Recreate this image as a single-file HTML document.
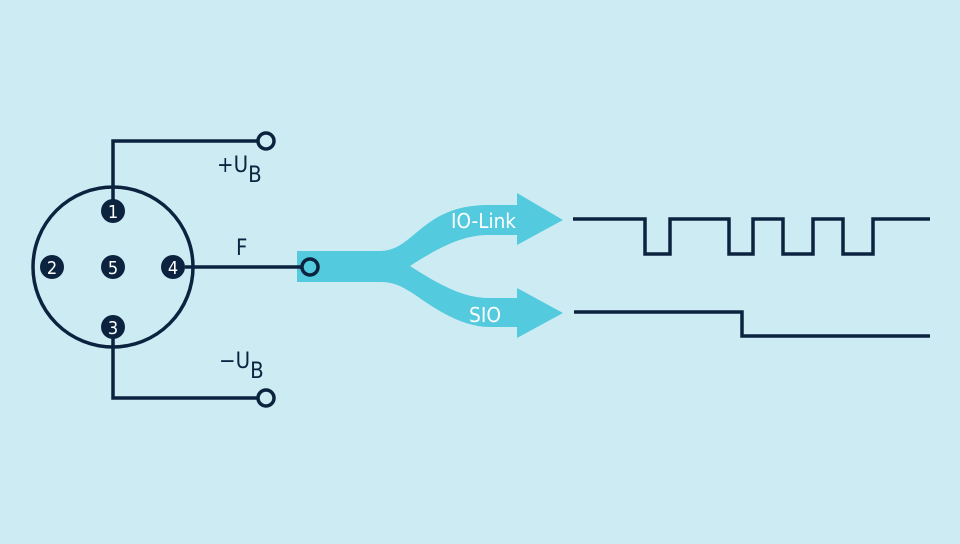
<!DOCTYPE html>
<html><head><meta charset="utf-8"><style>
html,body{margin:0;padding:0;background:#cdebf3;}
svg{display:block}
</style></head><body>
<svg width="960" height="544" viewBox="0 0 960 544" xmlns="http://www.w3.org/2000/svg">
<rect width="960" height="544" fill="#cdebf3"/>
<path d="M297,251 L380,251 C400,251 410,236 430,222 C450,208 470,205 490,205 L517,205 L517,193 L563,220 L517,245 L517,235 L490,235 C470,235 450,240 410,266 C450,292 470,298 490,298 L517,298 L517,288 L563,313 L517,338 L517,327 L490,327 C470,327 450,318 430,305 C410,292 400,282 380,282 L297,282 Z" fill="#53cadd"/>
<g font-family="'DejaVu Sans Condensed','Liberation Sans',sans-serif" fill="#fff" font-size="20">
<text x="451" y="228" textLength="65" lengthAdjust="spacingAndGlyphs">IO-Link</text>
<text x="469" y="322" textLength="32" lengthAdjust="spacingAndGlyphs">SIO</text>
</g>
<g fill="none" stroke="#0c2340" stroke-width="3.5">
<circle cx="113" cy="267" r="80"/>
<polyline points="113,200 113,141 258,141"/>
<polyline points="113,337 113,398 258,398"/>
<line x1="185" y1="267" x2="302" y2="267"/>
<circle cx="266" cy="141" r="8"/>
<circle cx="266" cy="398" r="8"/>
<circle cx="310" cy="267" r="8"/>
<polyline points="573,219 645,219 645,254 670,254 670,219 729,219 729,254 753,254 753,219 783,219 783,254 813,254 813,219 843,219 843,254 873,254 873,219 930,219"/>
<polyline points="574,312 742,312 742,336 930,336"/>
</g>
<g fill="#0c2340">
<circle cx="113" cy="211" r="12"/>
<circle cx="52" cy="267" r="12"/>
<circle cx="113" cy="267" r="12"/>
<circle cx="173" cy="267" r="12"/>
<circle cx="113" cy="327" r="12"/>
</g>
<g font-family="'DejaVu Sans Condensed','Liberation Sans',sans-serif" fill="#fff" font-size="18" text-anchor="middle">
<text x="113" y="218">1</text>
<text x="52" y="274">2</text>
<text x="113" y="274">5</text>
<text x="173" y="274">4</text>
<text x="113" y="334">3</text>
</g>
<g font-family="'DejaVu Sans Condensed','Liberation Sans',sans-serif" fill="#0c2340" font-size="22">
<text x="236" y="255">F</text>
<text x="217" y="172">+U<tspan dy="10">B</tspan></text>
<text x="219" y="368">−U<tspan dy="10">B</tspan></text>
</g>
</svg>
</body></html>
